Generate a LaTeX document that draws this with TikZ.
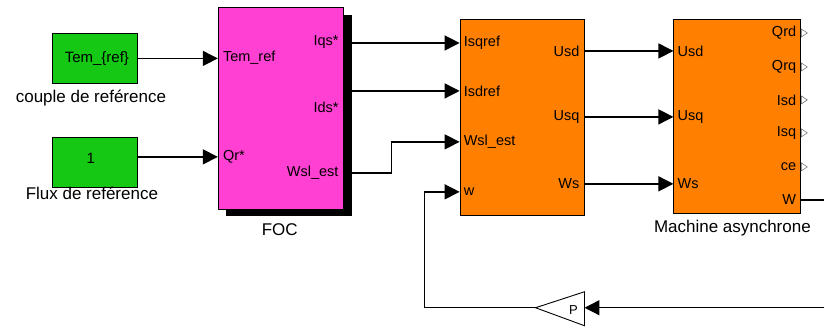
\documentclass[tikz,border=0pt]{standalone}
\usepackage{fontspec}
\setmainfont{Liberation Sans}
\usetikzlibrary{arrows.meta,calc}
\definecolor{blkgreen}{RGB}{20,200,20}
\definecolor{blkmag}{RGB}{255,64,210}
\definecolor{blkorange}{RGB}{255,128,0}
\pgfdeclarelayer{back}
\pgfdeclarelayer{bg}
\pgfsetlayers{back,bg,main}
\begin{document}
\begin{tikzpicture}[x=1pt,y=-1pt,
  blk/.style={draw=black, line width=0.9pt, inner sep=0, anchor=north west},
  lbl/.style={font=\fontsize{17}{19}\selectfont, inner sep=0},
  port/.style={font=\fontsize{14.5}{16}\selectfont, inner sep=0},
  wire/.style={line width=1.4pt},
  sig/.style={wire, -{Triangle[length=15pt,width=15pt]}},
  outtri/.style={draw=black!60, fill=white, line width=0.5pt}]
\begin{pgfonlayer}{back}
\path[use as bounding box, fill=white] (0,0) rectangle (825,330);
\end{pgfonlayer}

% blocks
\node[blk, fill=blkgreen, minimum width=85pt, minimum height=50pt] (g1) at (52,33) {};
\node[font=\fontsize{15}{17}\selectfont] at ($(g1.center)+(2,0)$) {Tem\_\{ref\}};
\node[lbl] (l1) at (91,98) {couple de reférence};
\node[blk, fill=blkgreen, minimum width=85pt, minimum height=50pt] (g2) at (52,137) {};
\node[font=\fontsize{15}{17}\selectfont] at ($(g2.center)+(-4,-4)$) {1};
\node[lbl] (l2) at (92,193) {Flux de reférence};

\fill[black] (226,15) rectangle (352,216);
\node[blk, fill=blkmag, minimum width=125pt, minimum height=202pt] (foc) at (218,7) {};
\node[lbl] (lfoc) at (280,230) {FOC};

\node[blk, fill=blkorange, minimum width=124pt, minimum height=196pt] (ctl) at (460,19) {};
\node[blk, fill=blkorange, minimum width=127pt, minimum height=194pt] (mach) at (674,19) {};
\node[lbl] (lmach) at (733,228) {Machine asynchrone};

% gain
\draw[line width=0.9pt] (585,292) -- (585,326) -- (536,308) -- cycle;
\node[font=\fontsize{13}{15}\selectfont] (pg) at (574,310) {P};
\coordinate (gainIn) at (585,308);
\coordinate (gainOut) at (536,308);

% port labels
\node[port, anchor=west] at (223,58) {Tem\_ref};
\node[port, anchor=west] at (223,157) {Qr*};
\node[port, anchor=east] at (339,42) {Iqs*};
\node[port, anchor=east] at (339,107) {Ids*};
\node[port, anchor=east] at (339,173) {Wsl\_est};

\node[port, anchor=west] at (464,43) {Isqref};
\node[port, anchor=west] at (464,91) {Isdref};
\node[port, anchor=west] at (464,142) {Wsl\_est};
\node[port, anchor=west] at (464,192) {w};
\node[port, anchor=east] at (580,51) {Usd};
\node[port, anchor=east] at (580,117) {Usq};
\node[port, anchor=east] at (580,184) {Ws};

\node[port, anchor=west] at (678,51) {Usd};
\node[port, anchor=west] at (678,117) {Usq};
\node[port, anchor=west] at (678,184) {Ws};
\foreach \t/\yy in {Qrd/33,Qrq/67,Isd/100,Isq/133,ce/167,W/200}{
  \node[port, anchor=east] at (797,\yy) {\t};
}
\foreach \yy in {33,67,100,133,167}{
  \draw[outtri] (802,\yy-4) -- (802,\yy+4) -- (808,\yy) -- cycle;
}

% port coordinates
\coordinate (focI2) at (218,157);
\coordinate (focO1) at (343,43);
\coordinate (focO2) at (343,91);
\coordinate (focO3) at (343,173);
\coordinate (ctlI1) at (460,43);
\coordinate (ctlI2) at (460,91);
\coordinate (ctlI3) at (460,142);
\coordinate (ctlI4) at (460,192);
\coordinate (ctlO1) at (584,51);
\coordinate (ctlO2) at (584,117);
\coordinate (ctlO3) at (584,184);
\coordinate (machI1) at (674,51);
\coordinate (machI2) at (674,117);
\coordinate (machI3) at (674,184);
\coordinate (machW) at (801,200);
\coordinate (outW) at (825,200);
\coordinate (fbR) at (825,308);

% wires
\begin{pgfonlayer}{bg}
\draw[sig] (g1.east) -- (g1.east -| foc.west);
\draw[sig] (g2.east |- focI2) -- (focI2);
\draw[sig] (focO1) -- (ctlI1);
\draw[sig] (focO2) -- (ctlI2);
\draw[sig] (focO3) -| ($(ctlI3)+(-68,0)$) -- (ctlI3);
\draw[sig] (ctlO1) -- (machI1);
\draw[sig] (ctlO2) -- (machI2);
\draw[sig] (ctlO3) -- (machI3);
\draw[wire] (machW) -- (outW);
\draw[sig] (fbR) -- (gainIn);
\draw[sig] (gainOut) -| ($(ctlI4)+(-35,0)$) -- (ctlI4);
\end{pgfonlayer}
\end{tikzpicture}
\end{document}
